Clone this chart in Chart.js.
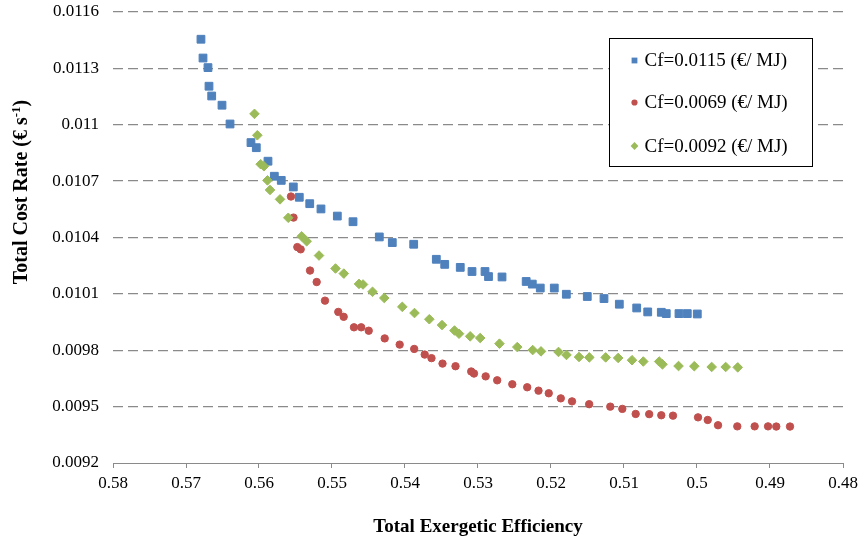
<!DOCTYPE html>
<html>
<head>
<meta charset="utf-8">
<script src="https://cdn.jsdelivr.net/npm/chart.js@4/dist/chart.umd.min.js"></script>
<style>
  html, body { margin: 0; padding: 0; background: #fff; }
  #wrap { width: 859px; height: 543px; position: relative; }
</style>
</head>
<body>
<div id="wrap"><canvas id="c" width="859" height="543"></canvas></div>
<script>
// ---- data ----
const seriesLabels = ['Cf=0.0115 (€/ MJ)', 'Cf=0.0069 (€/ MJ)', 'Cf=0.0092 (€/ MJ)'];

const blueX = [0.56795,0.56767,0.56699,0.56685,0.56648,0.56507,0.56397,0.5611,0.56037,0.55877,0.5579,0.55695,0.5553,0.55448,0.55305,0.55151,0.54927,0.54712,0.54352,0.54174,0.53881,0.53571,0.53456,0.53243,0.53082,0.52904,0.52856,0.52671,0.5234,0.52256,0.52147,0.51955,0.5179,0.51503,0.51274,0.51064,0.50826,0.50675,0.50489,0.50421,0.50247,0.50133,0.49996];
const blueY = [0.011455,0.011355,0.011304,0.011205,0.011153,0.011104,0.011004,0.010905,0.010878,0.010806,0.010726,0.010704,0.010669,0.010614,0.010580,0.010552,0.010514,0.010484,0.010403,0.010373,0.010364,0.010284,0.010257,0.010241,0.010219,0.010219,0.010192,0.010190,0.010166,0.010152,0.010131,0.010131,0.010098,0.010086,0.010075,0.010045,0.010025,0.010004,0.010002,0.009995,0.009995,0.009995,0.009993];

const redX = [0.55562,0.55527,0.55475,0.55429,0.55301,0.5521,0.55096,0.54914,0.5484,0.54699,0.546,0.54497,0.54278,0.54073,0.53874,0.5373,0.53637,0.53486,0.53308,0.53093,0.53055,0.52895,0.52737,0.5253,0.52326,0.52171,0.52031,0.51866,0.51712,0.51477,0.51188,0.51023,0.5084,0.50655,0.50489,0.50329,0.49986,0.49853,0.49712,0.49448,0.4921,0.49027,0.48914,0.48726];
const redY = [0.010618,0.010506,0.010349,0.010337,0.010224,0.010163,0.010064,0.010004,0.009978,0.009922,0.009922,0.009904,0.009863,0.00983,0.009807,0.009777,0.009758,0.009729,0.009715,0.009687,0.009676,0.009661,0.00964,0.009619,0.009603,0.009585,0.009571,0.009544,0.009528,0.009513,0.0095,0.009488,0.009461,0.00946,0.009454,0.009452,0.009443,0.009429,0.009401,0.009395,0.009395,0.009395,0.009394,0.009394];

const greenX = [0.56062,0.56023,0.55977,0.55932,0.55884,0.55849,0.55712,0.55599,0.55415,0.55347,0.55178,0.54952,0.54838,0.5463,0.54575,0.54445,0.54284,0.54037,0.5387,0.53667,0.53493,0.53322,0.5326,0.53107,0.5297,0.52706,0.52462,0.52251,0.52137,0.51897,0.51788,0.51616,0.51475,0.51251,0.5108,0.5089,0.50736,0.50518,0.50473,0.50253,0.50037,0.49799,0.49607,0.49442];
const greenY = [0.011058,0.010944,0.01079,0.010779,0.010704,0.010653,0.010603,0.010505,0.010406,0.01038,0.010304,0.010235,0.010208,0.010153,0.01015,0.010111,0.010078,0.010031,0.009998,0.009965,0.009934,0.009905,0.009888,0.009874,0.009865,0.009835,0.009817,0.009801,0.009794,0.009791,0.009775,0.009764,0.009762,0.009762,0.009759,0.009747,0.00974,0.00974,0.009725,0.009716,0.009715,0.009711,0.009711,0.009709];

const xTicks = [0.58,0.57,0.56,0.55,0.54,0.53,0.52,0.51,0.5,0.49,0.48];
const yTicks = [0.0092,0.0095,0.0098,0.0101,0.0104,0.0107,0.011,0.0113,0.0116];

const xTitle = 'Total Exergetic Efficiency';
const yTitleParts = ['Total Cost Rate (€ s', '-1', ')'];

// ---- build ----
const pts = (xs, ys) => xs.map((x, i) => ({x: x, y: ys[i]}));
const FONT = '"Liberation Serif", "Times New Roman", serif';
const GRID = '#8a8a8a';

const datasets = [
  {label: seriesLabels[0], data: pts(blueX, blueY), pointStyle: 'rect', pointRadius: 5.5,
   backgroundColor: '#4F81BD', borderColor: '#4F81BD', pointBorderWidth: 1, order: 2},
  {label: seriesLabels[1], data: pts(redX, redY), pointStyle: 'circle', pointRadius: 3.7,
   backgroundColor: '#C0504D', borderColor: '#C0504D', pointBorderWidth: 1, order: 1},
  {label: seriesLabels[2], data: pts(greenX, greenY), pointStyle: 'rectRot', pointRadius: 4.8,
   backgroundColor: '#9BBB59', borderColor: '#9BBB59', pointBorderWidth: 1, order: 0}
];

const extras = {
  id: 'extras',
  afterDraw(chart) {
    const ctx = chart.ctx;
    const ca = chart.chartArea;
    // y-axis title with superscript
    ctx.save();
    ctx.fillStyle = '#000';
    ctx.textBaseline = 'alphabetic';
    ctx.textAlign = 'left';
    const fBig = 'bold 20px ' + FONT, fSmall = 'bold 13px ' + FONT;
    ctx.font = fBig; const w1 = ctx.measureText(yTitleParts[0]).width; const w3 = ctx.measureText(yTitleParts[2]).width;
    ctx.font = fSmall; const w2 = ctx.measureText(yTitleParts[1]).width;
    const total = w1 + w2 + w3;
    ctx.translate(27, ca.top + 180);
    ctx.rotate(-Math.PI / 2);
    let px = -total / 2;
    ctx.font = fBig; ctx.fillText(yTitleParts[0], px, 0); px += w1;
    ctx.font = fSmall; ctx.fillText(yTitleParts[1], px, -7); px += w2;
    ctx.font = fBig; ctx.fillText(yTitleParts[2], px, 0);
    ctx.restore();

    // legend box
    const bx = Math.round(ca.left + 496) + 0.5, by = Math.round(ca.top + 26) + 0.5;
    const bw = 203, bh = 128;
    ctx.save();
    ctx.fillStyle = '#fff';
    ctx.fillRect(bx, by, bw, bh);
    ctx.strokeStyle = '#000';
    ctx.lineWidth = 1;
    ctx.strokeRect(bx, by, bw, bh);
    ctx.font = '19px ' + FONT;
    ctx.textBaseline = 'middle';
    ctx.textAlign = 'left';
    const rows = [22, 64, 107.5];
    chart.data.datasets.forEach((ds, i) => {
      const cy = by + rows[i];
      const cx = bx + 25;
      ctx.fillStyle = ds.backgroundColor;
      const style = ds.pointStyle;
      ctx.beginPath();
      if (style === 'rect') {
        ctx.rect(cx - 2.9, cy - 2.9, 5.8, 5.8);
      } else if (style === 'circle') {
        ctx.arc(cx, cy, 3.1, 0, Math.PI * 2);
      } else {
        ctx.moveTo(cx - 3.9, cy); ctx.lineTo(cx, cy - 3.9); ctx.lineTo(cx + 3.9, cy); ctx.lineTo(cx, cy + 3.9); ctx.closePath();
      }
      ctx.fill();
      ctx.fillStyle = '#000';
      ctx.fillText(ds.label, bx + 35, cy + 1);
    });
    ctx.restore();
  }
};

new Chart(document.getElementById('c'), {
  type: 'scatter',
  data: {datasets: datasets},
  plugins: [extras],
  options: {
    responsive: false,
    animation: false,
    devicePixelRatio: 1,
    layout: {padding: {left: 0, right: 16, top: 12, bottom: 0}},
    plugins: {legend: {display: false}, tooltip: {enabled: false}},
    scales: {
      x: {
        type: 'linear', reverse: true, min: 0.48, max: 0.58,
        afterBuildTicks: s => { s.ticks = xTicks.map(v => ({value: v})); },
        afterFit: s => { s.height = 80; s.paddingLeft = 0; s.paddingRight = 0; },
        ticks: {
          font: {family: FONT, size: 17}, color: '#000', padding: 5, maxRotation: 0,
          callback: v => String(Number(v.toFixed(2)))
        },
        grid: {display: true, drawOnChartArea: false, drawTicks: true, tickLength: 5, color: GRID},
        border: {display: true, color: GRID, width: 1, z: 1},
        title: {display: true, text: xTitle, font: {family: FONT, size: 19, weight: 'bold'}, color: '#000', padding: {top: 0, bottom: 5}}
      },
      y: {
        type: 'linear', min: 0.0092, max: 0.0116,
        afterBuildTicks: s => { s.ticks = yTicks.map(v => ({value: v})); },
        afterFit: s => { s.width = 113; s.paddingTop = 0; s.paddingBottom = 0; },
        ticks: {
          font: {family: FONT, size: 17}, color: '#000', padding: 14,
          callback: v => String(Number(v.toFixed(4)))
        },
        grid: {display: true, drawTicks: false, lineWidth: 1.3,
               color: c => (c.tick && c.tick.value === yTicks[0]) ? 'rgba(0,0,0,0)' : GRID},
        border: {display: false, dash: [10, 5]},
        title: {display: false}
      }
    }
  }
});
</script>
</body>
</html>
